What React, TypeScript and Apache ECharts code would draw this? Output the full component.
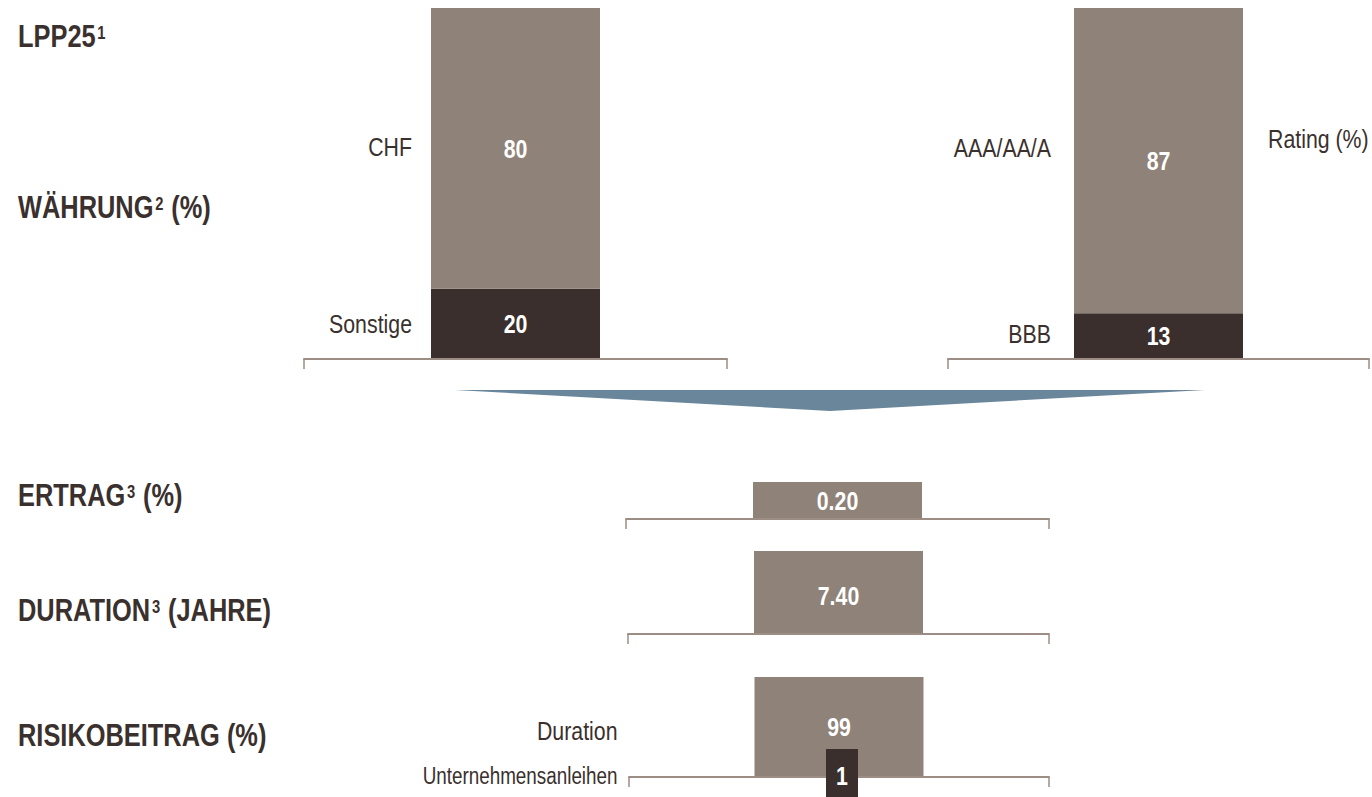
import React, { useEffect, useRef } from 'react';
import * as echarts from 'echarts';

// ---- data ----
const currencyCategories = ['CHF', 'Sonstige'];
const currencyValues = [80, 20];
const ratingCategories = ['AAA/AA/A', 'BBB'];
const ratingValues = [87, 13];
const yieldCategories = ['Ertrag'];
const yieldValues = [0.2];
const durationCategories = ['Duration'];
const durationValues = [7.4];
const riskCategories = ['Duration', 'Unternehmensanleihen'];
const riskValues = [99, 1];

const LIGHT = '#8f8279';
const DARK = '#3a2f2c';
const AXIS = '#9c8e85';
const TEXT = '#3a302d';
const ARROW = '#6a869b';
const FONT = "'Liberation Sans', Arial, sans-serif";
const NARROW = 0.82;
const BAR_W = 169;

const grids = [
  { left: 304, top: 8, width: 423, height: 351 },
  { left: 948, top: 8, width: 421, height: 351 },
  { left: 626, top: 482, width: 423, height: 37 },
  { left: 628, top: 551, width: 421, height: 83 },
  { left: 629, top: 677, width: 420, height: 100 },
];

const sum = (a: number[]) => a.reduce((s, v) => s + v, 0);

type Part = {
  name: string;
  value: number;
  color: string;
  decimals?: number;
  side?: { distance: number; dy: number; fontSize?: number };
  valueDy?: number;
  boxed?: boolean;
};

type Chart = { gi: number; cat: string; parts: Part[] };

// parts listed bottom-to-top
const charts: Chart[] = [
  {
    gi: 0,
    cat: 'Währung',
    parts: [
      { name: currencyCategories[1], value: currencyValues[1], color: DARK, side: { distance: 19, dy: 0 } },
      { name: currencyCategories[0], value: currencyValues[0], color: LIGHT, side: { distance: 19, dy: -2 } },
    ],
  },
  {
    gi: 1,
    cat: 'Rating',
    parts: [
      { name: ratingCategories[1], value: ratingValues[1], color: DARK, side: { distance: 23, dy: -2 } },
      { name: ratingCategories[0], value: ratingValues[0], color: LIGHT, side: { distance: 23, dy: -13 } },
    ],
  },
  {
    gi: 2,
    cat: yieldCategories[0],
    parts: [{ name: yieldCategories[0], value: yieldValues[0], color: LIGHT, decimals: 2 }],
  },
  {
    gi: 3,
    cat: durationCategories[0],
    parts: [{ name: durationCategories[0], value: durationValues[0], color: LIGHT, decimals: 2, valueDy: 3 }],
  },
  {
    gi: 4,
    cat: 'Risiko',
    parts: [
      { name: riskCategories[1], value: riskValues[1], color: DARK, side: { distance: 137, dy: -1, fontSize: 23 }, boxed: true },
      { name: riskCategories[0], value: riskValues[0], color: LIGHT, side: { distance: 137, dy: 4 } },
    ],
  },
];

function narrowText(x: number, y: number, text: string, opts: any) {
  return {
    type: 'text',
    x,
    y,
    scaleX: NARROW,
    z: opts.z ?? 10,
    silent: true,
    style: {
      text,
      align: opts.align ?? 'left',
      verticalAlign: 'middle',
      fontSize: opts.fontSize ?? 26,
      fontWeight: opts.bold ? 'bold' : 'normal',
      fontFamily: FONT,
      fill: opts.fill ?? TEXT,
      rich: opts.rich,
    },
  };
}

function heading(x: number, y: number, main: string, sup?: string, tail?: string) {
  let text = '{b|' + main + '}';
  if (sup) text += '{s|' + sup + '}';
  if (tail) text += '{b|' + tail + '}';
  return narrowText(x, y, text, {
    rich: {
      b: { fontSize: 31, fontWeight: 'bold', fontFamily: FONT, fill: TEXT, lineHeight: 32 },
      s: { fontSize: 18, fontWeight: 'bold', fontFamily: FONT, fill: TEXT, verticalAlign: 'top', lineHeight: 32, padding: [3, 1, 0, 2] },
    },
  });
}

export default function App() {
  const ref = useRef<HTMLDivElement>(null);
  useEffect(() => {
    document.body.style.margin = '0';
    if (!ref.current) return;
    const chart = echarts.init(ref.current, undefined, { renderer: 'svg' });

    const series: any[] = [];
    charts.forEach((c) => {
      c.parts.forEach((p) => {
        series.push({
          type: 'bar',
          name: p.name,
          xAxisIndex: c.gi,
          yAxisIndex: c.gi,
          stack: 'v' + c.gi,
          barWidth: BAR_W,
          data: [p.value],
          itemStyle: { color: p.color },
          label: { show: false },
          silent: true,
        });
      });
    });

    const option: any = {
      animation: false,
      backgroundColor: '#ffffff',
      tooltip: { show: false },
      legend: { show: false },
      grid: grids.map((g) => ({ ...g, containLabel: false })),
      xAxis: charts.map((c) => ({
        type: 'category',
        gridIndex: c.gi,
        data: [c.cat],
        boundaryGap: true,
        axisLine: { show: true, lineStyle: { color: AXIS, width: 2 } },
        axisTick: { show: true, length: 10, inside: false, alignWithLabel: false, lineStyle: { color: AXIS, width: 1.5 } },
        axisLabel: { show: false },
        splitLine: { show: false },
        z: 3,
      })),
      yAxis: charts.map((c) => ({
        type: 'value',
        gridIndex: c.gi,
        min: 0,
        max: sum(c.parts.map((p) => p.value)),
        show: false,
        splitLine: { show: false },
      })),
      series,
    };
    chart.setOption(option);

    // texts placed from the library's own scales
    const graphics: any[] = [];
    charts.forEach((c) => {
      let acc = 0;
      c.parts.forEach((p) => {
        const finder = { xAxisIndex: c.gi, yAxisIndex: c.gi };
        const [cx, yLow] = chart.convertToPixel(finder, [c.cat, acc]) as number[];
        const [, yHigh] = chart.convertToPixel(finder, [c.cat, acc + p.value]) as number[];
        acc += p.value;
        const midY = (yLow + yHigh) / 2;
        const label = p.decimals ? p.value.toFixed(p.decimals) : String(p.value);
        if (p.boxed) {
          graphics.push({
            type: 'rect',
            shape: { x: cx + 3 - 16, y: yLow - 28, width: 32, height: 48 },
            style: { fill: DARK },
            z: 9,
            silent: true,
          });
          graphics.push(narrowText(cx + 3, yLow - 1, label, { align: 'center', bold: true, fill: '#ffffff', fontSize: 26 }));
        } else {
          graphics.push(narrowText(cx, midY + (p.valueDy ?? 0), label, { align: 'center', bold: true, fill: '#ffffff', fontSize: 26 }));
        }
        if (p.side) {
          graphics.push(
            narrowText(cx - BAR_W / 2 - p.side.distance, midY + p.side.dy, p.name, {
              align: 'right',
              fontSize: p.side.fontSize ?? 26,
            })
          );
        }
      });
    });

    graphics.push(
      heading(18, 36, 'LPP25', '1'),
      heading(18, 207, 'WÄHRUNG', '2', ' (%)'),
      heading(18, 495, 'ERTRAG', '3', ' (%)'),
      heading(18, 610, 'DURATION', '3', ' (JAHRE)'),
      heading(18, 735, 'RISIKOBEITRAG (%)'),
      narrowText(1268, 139, 'Rating (%)', { fontSize: 26 }),
      {
        type: 'polygon',
        shape: { points: [[455, 390], [1205, 390], [830, 411]] },
        style: { fill: ARROW },
        silent: true,
      }
    );

    chart.setOption({ graphic: graphics });
    return () => chart.dispose();
  }, []);
  return <div ref={ref} style={{ width: 1372, height: 797, background: '#fff' }} />;
}
